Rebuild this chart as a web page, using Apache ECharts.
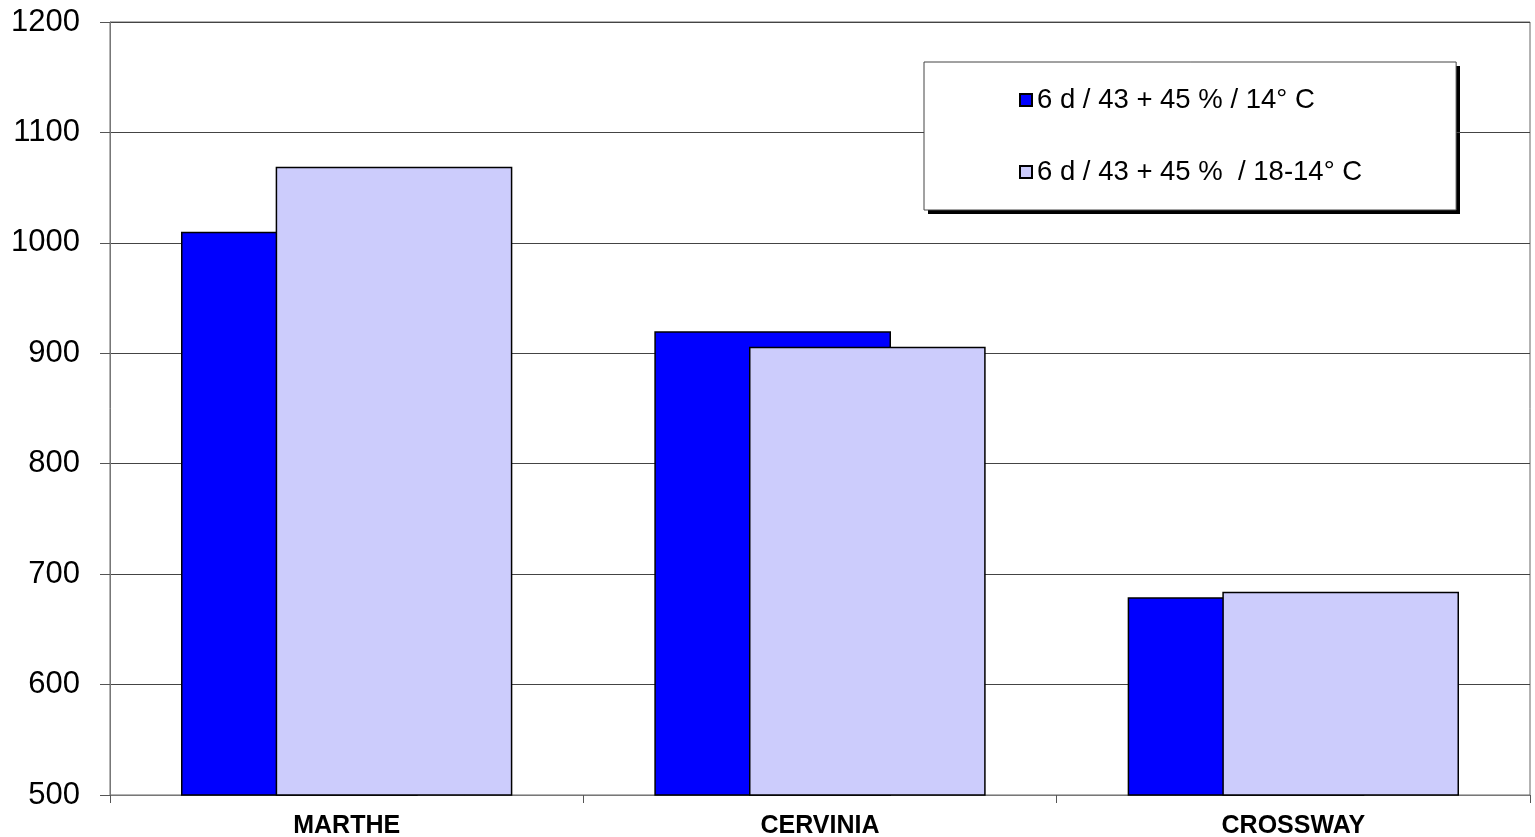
<!DOCTYPE html>
<html>
<head>
<meta charset="utf-8">
<script src="https://cdn.jsdelivr.net/npm/echarts@6/dist/echarts.min.js"></script>
<style>
html, body { margin: 0; padding: 0; background: #fff; }
#chart { width: 1535px; height: 837px; }
</style>
</head>
<body>
<div id="chart"></div>
<script>
var categories = ['MARTHE', 'CERVINIA', 'CROSSWAY'];
var seriesNames = ['6 d / 43 + 45 % / 14° C', '6 d / 43 + 45 %  / 18-14° C'];
var values14 = [1010, 920, 679];
var values1814 = [1069, 906, 684];

var chart = echarts.init(document.getElementById('chart'));

var option = {
    animation: false,
    textStyle: { fontFamily: 'Liberation Sans, Arial, sans-serif' },
    grid: {
        left: 110, right: 5, top: 22, bottom: 42,
        outerBoundsMode: 'none',
        show: true, borderColor: '#666', borderWidth: 1
    },
    // drop shadow of the legend box
    graphic: [{
        type: 'rect',
        z: 0,
        shape: { x: 928, y: 66, width: 532, height: 148 },
        style: { fill: '#000' }
    }],
    legend: {
        orient: 'vertical',
        left: 924, top: 62,
        padding: [24, 94, 24, 95],
        itemGap: 44,
        itemWidth: 12, itemHeight: 12,
        icon: 'rect',
        backgroundColor: '#fff',
        borderColor: '#444', borderWidth: 1,
        z: 5,
        textStyle: { fontSize: 27.5, color: '#000', lineHeight: 28 },
        data: seriesNames
    },
    xAxis: {
        type: 'category',
        data: categories,
        axisLine: { lineStyle: { color: '#777', width: 1 } },
        axisTick: { show: true, length: 8, lineStyle: { color: '#555' } },
        axisLabel: { fontSize: 25, fontWeight: 'bold', color: '#000', margin: 19 }
    },
    yAxis: {
        type: 'value',
        min: 500, max: 1200, interval: 100,
        axisLine: { show: true, lineStyle: { color: '#777' } },
        axisTick: { show: true, length: 10, lineStyle: { color: '#555' } },
        axisLabel: {
            fontSize: 31, color: '#000', margin: 30,
            formatter: function (v) { return String(v); }
        },
        splitLine: { lineStyle: { color: '#444', width: 1 } }
    },
    series: [
        {
            name: seriesNames[0],
            type: 'bar',
            data: values14,
            barWidth: '50%',
            barGap: '-60%',
            itemStyle: { color: '#0000ff', borderColor: '#000', borderWidth: 1.5 }
        },
        {
            name: seriesNames[1],
            type: 'bar',
            data: values1814,
            barWidth: '50%',
            barGap: '-60%',
            itemStyle: { color: '#ccccfc', borderColor: '#000', borderWidth: 1.5 }
        }
    ]
};

chart.setOption(option);
</script>
</body>
</html>
